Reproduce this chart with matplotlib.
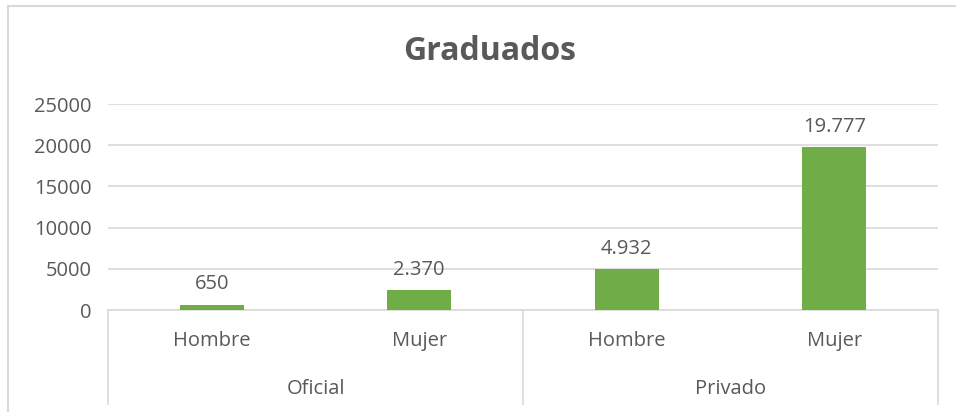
import matplotlib.pyplot as plt
from matplotlib.lines import Line2D
import matplotlib.transforms as mtransforms

# data
groups = ["Oficial", "Privado"]
categories = ["Hombre", "Mujer", "Hombre", "Mujer"]
values = [650, 2370, 4932, 19777]
y_ticks = [0, 5000, 10000, 15000, 20000, 25000]

plt.rcParams['font.family'] = ['Open Sans', 'DejaVu Sans']
text_color = '#595959'
grid_color = '#D9D9D9'
bar_color = '#70AD47'

W, H = 956, 412
fig = plt.figure(figsize=(W / 100, H / 100), dpi=100)
left, right, top, bottom = 108, 938, 104, 310
ax = fig.add_axes([left / W, 1 - bottom / H, (right - left) / W, (bottom - top) / H])

x = list(range(len(values)))
ax.bar(x, values, width=0.31, color=bar_color, zorder=3)
ax.set_xlim(-0.5, len(values) - 0.5)
ax.set_ylim(0, 25000)
ax.set_yticks(y_ticks)
ax.set_yticklabels([str(t) for t in y_ticks])
ax.tick_params(axis='y', length=0, pad=12, labelsize=14.5, labelcolor=text_color)
ax.set_xticks([])
ax.grid(axis='y', color=grid_color, linewidth=1.2, zorder=0)
for side in ['top', 'right', 'left']:
    ax.spines[side].set_visible(False)
ax.spines['bottom'].set_color(grid_color)
ax.spines['bottom'].set_linewidth(1.2)

# data labels
for xi, v in zip(x, values):
    ax.annotate(f"{v:,}".replace(",", "."), xy=(xi, v), xytext=(0, 7.5),
                textcoords='offset points', ha='center', va='bottom',
                fontsize=14.5, color=text_color)

# two-level category axis
trans = mtransforms.blended_transform_factory(ax.transData, ax.transAxes)
ah = bottom - top
y_cat = (bottom - 341) / ah
y_grp = (bottom - 389) / ah
y_end = (bottom - 404) / ah
for xi, c in zip(x, categories):
    ax.text(xi, y_cat, c, transform=trans, ha='center', va='center',
            fontsize=14.5, color=text_color)
n_per = len(categories) // len(groups)
for gi, g in enumerate(groups):
    mid = gi * n_per + (n_per - 1) / 2
    ax.text(mid, y_grp, g, transform=trans, ha='center', va='center',
            fontsize=14.5, color=text_color)
for gi in range(len(groups) + 1):
    xs = gi * n_per - 0.5
    ax.add_line(Line2D([xs, xs], [0, y_end], transform=trans, color=grid_color,
                       linewidth=1.2, clip_on=False))

# title
fig.text(490 / W, 1 - 52 / H, "Graduados", ha='center', va='center',
         fontsize=23, fontweight='bold', color=text_color)

# chart frame (partially visible)
fig.add_artist(Line2D([7.5 / W, 1], [1 - 5.5 / H] * 2, transform=fig.transFigure,
                      color=grid_color, linewidth=1.5))
fig.add_artist(Line2D([7.5 / W] * 2, [0, 1 - 5.5 / H], transform=fig.transFigure,
                      color=grid_color, linewidth=1.5))

fig.savefig("out.png", dpi=100)
